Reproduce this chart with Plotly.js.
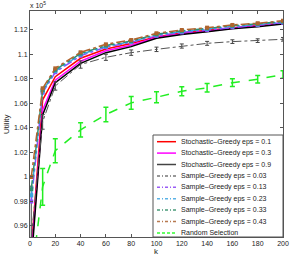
<!DOCTYPE html>
<html>
<head>
<meta charset="utf-8">
<script src="https://cdn.plot.ly/plotly-3.0.1.min.js"></script>
<style>html,body{margin:0;padding:0;background:#fff;}#chart{width:291px;height:257px;}</style>
</head>
<body>
<div id="chart"></div>
<script>
// k values
const kValues = [1, 10, 20, 40, 60, 80, 100, 120, 140, 160, 180, 200];

// Utility values (x 10^5)
const stochGreedy01 = [0.940, 1.0630, 1.0819, 1.0969, 1.1045, 1.1090, 1.1145, 1.1175, 1.1197, 1.1220, 1.1237, 1.1258];
const stochGreedy03 = [0.935, 1.0547, 1.0790, 1.0945, 1.1030, 1.1075, 1.1138, 1.1170, 1.1190, 1.1215, 1.1232, 1.1253];
const stochGreedy09 = [0.930, 1.0506, 1.0770, 1.0928, 1.1015, 1.1064, 1.1132, 1.1163, 1.1185, 1.1210, 1.1227, 1.1249];
const sampleGreedy003 = [0.950, 1.0450, 1.0743, 1.0918, 1.0977, 1.1015, 1.1042, 1.1069, 1.1091, 1.1105, 1.1113, 1.1124];
const sampleGreedy003Err = [0.0425, 0.006, 0.0034, 0.003, 0.0025, 0.0022, 0.0018, 0.0017, 0.0016, 0.0015, 0.0015, 0.0015];
const sampleGreedy013 = [0.980, 1.0688, 1.0855, 1.0990, 1.1060, 1.1100, 1.1152, 1.1180, 1.1200, 1.1223, 1.1240, 1.1260];
const sampleGreedy023 = [0.985, 1.0700, 1.0865, 1.1000, 1.1066, 1.1105, 1.1160, 1.1188, 1.1208, 1.1230, 1.1245, 1.1265];
const sampleGreedy033 = [0.990, 1.0710, 1.0875, 1.1008, 1.1073, 1.1110, 1.1165, 1.1193, 1.1213, 1.1235, 1.1250, 1.1270];
const sampleGreedy043 = [1.000, 1.0724, 1.0887, 1.1018, 1.1083, 1.1118, 1.1173, 1.1200, 1.1219, 1.1241, 1.1255, 1.1276];
const randomSel = [0.916, 0.992, 1.0215, 1.0385, 1.0510, 1.0605, 1.0651, 1.0700, 1.0728, 1.0770, 1.0798, 1.0837];
const randomSelErr = [0.02, 0.015, 0.0098, 0.0058, 0.006, 0.0053, 0.0045, 0.0037, 0.0035, 0.0032, 0.003, 0.003];

const seriesNames = [
  "Stochastic–Greedy eps = 0.1",
  "Stochastic–Greedy eps = 0.3",
  "Stochastic–Greedy eps = 0.9",
  "Sample–Greedy eps = 0.03",
  "Sample–Greedy eps = 0.13",
  "Sample–Greedy eps = 0.23",
  "Sample–Greedy eps = 0.33",
  "Sample–Greedy eps = 0.43",
  "Random Selection"
];

const yTickVals = [0.96, 0.98, 1, 1.02, 1.04, 1.06, 1.08, 1.1, 1.12];
const yTickText = ["0.96", "0.98", "1", "1.02", "1.04", "1.06", "1.08", "1.1", "1.12"];
const xTickVals = [0, 20, 40, 60, 80, 100, 120, 140, 160, 180, 200];

const styles = [
  {color: '#ff0000', dash: 'solid', width: 1.5, marker: false},
  {color: '#ff00ff', dash: 'solid', width: 1.5, marker: false},
  {color: '#000000', dash: 'solid', width: 1.5, marker: false},
  {color: '#555555', dash: 'dashdot', width: 1, marker: false},
  {color: '#8a4dff', dash: 'dashdot', width: 1.5, marker: true},
  {color: '#3aa6dd', dash: 'dashdot', width: 1.5, marker: true},
  {color: '#2e8f72', dash: 'dashdot', width: 1.5, marker: true},
  {color: '#b0642e', dash: 'dashdot', width: 1.5, marker: true},
  {color: '#22ee22', dash: 'dash', width: 1.5, marker: false}
];
const legendColors = ['#ff0000', '#ff00ff', '#444444', '#777777', '#9a5cf5', '#5ab2e6', '#4a9a7a', '#b87a50', '#33ff33'];

const seriesData = [stochGreedy01, stochGreedy03, stochGreedy09, sampleGreedy003,
  sampleGreedy013, sampleGreedy023, sampleGreedy033, sampleGreedy043, randomSel];

const traces = seriesData.map((ys, i) => {
  const s = styles[i];
  const t = {
    x: kValues, y: ys, type: 'scatter',
    mode: s.marker ? 'lines+markers' : 'lines',
    name: seriesNames[i],
    line: {color: s.color, dash: s.dash, width: s.width},
    showlegend: false, cliponaxis: true
  };
  if (s.marker) t.marker = {symbol: 'square', size: 4, color: s.color};
  if (i === 3) t.error_y = {type: 'data', array: sampleGreedy003Err, visible: true, color: '#444', thickness: 1, width: 2};
  if (i === 8) t.error_y = {type: 'data', array: randomSelErr, visible: true, color: '#22ee22', thickness: 1.5, width: 2.5};
  return t;
});

// plot area in px
const W = 291, H = 257, ML = 30, MR = 8, MT = 11, MB = 20;
const PW = W - ML - MR, PH = H - MT - MB;
const px2x = p => (p - ML) / PW;
const px2y = p => (H - MB - p) / PH;

const shapes = [];
const annotations = [];
// legend box
shapes.push({type: 'rect', xref: 'paper', yref: 'paper', x0: px2x(153), x1: 1, y0: 0, y1: px2y(135),
  line: {color: '#555', width: 1}, fillcolor: '#ffffff', layer: 'above'});
seriesNames.forEach((name, i) => {
  const yp = 141.7 + i * 11.4;
  shapes.push({type: 'line', xref: 'paper', yref: 'paper', x0: px2x(157), x1: px2x(176), y0: px2y(yp), y1: px2y(yp),
    line: {color: legendColors[i], width: 1.5, dash: styles[i].dash === 'solid' ? 'solid' : (styles[i].dash === 'dash' ? '3px,2px' : '3px,2px,1px,2px')}, layer: 'above'});
  annotations.push({xref: 'paper', yref: 'paper', x: px2x(179), y: px2y(yp), xanchor: 'left', yanchor: 'middle',
    text: name, showarrow: false, font: {family: 'Liberation Sans, Arial, sans-serif', size: 7, color: '#222'}});
});
annotations.push({xref: 'paper', yref: 'paper', x: px2x(156), y: px2y(251), xanchor: 'center', yanchor: 'middle',
  text: 'k', showarrow: false, font: {family: 'Liberation Sans, Arial, sans-serif', size: 8, color: '#222'}});
annotations.push({xref: 'paper', yref: 'paper', x: px2x(6), y: 0.5, xanchor: 'center', yanchor: 'middle', textangle: -90,
  text: 'Utility', showarrow: false, font: {family: 'Liberation Sans, Arial, sans-serif', size: 8, color: '#222'}});
annotations.push({xref: 'paper', yref: 'paper', x: px2x(28), y: px2y(5), xanchor: 'left', yanchor: 'middle',
  text: 'x 10<sup>5</sup>', showarrow: false, font: {family: 'Liberation Sans, Arial, sans-serif', size: 7, color: '#222'}});

const axisCommon = {
  showgrid: false, zeroline: false, showline: true, linecolor: '#555', linewidth: 1,
  mirror: 'ticks', ticks: 'inside', ticklen: 3, tickcolor: '#555', tickwidth: 1,
  tickfont: {family: 'Liberation Sans, Arial, sans-serif', size: 7, color: '#222'}
};

const layout = {
  width: W, height: H,
  margin: {l: ML, r: MR, t: MT, b: MB, pad: 0},
  paper_bgcolor: '#fff', plot_bgcolor: '#fff',
  showlegend: false,
  xaxis: Object.assign({}, axisCommon, {range: [0, 200], tickvals: xTickVals, ticktext: xTickVals.map(String)}),
  yaxis: Object.assign({}, axisCommon, {range: [0.951, 1.1355], tickvals: yTickVals, ticktext: yTickText}),
  shapes: shapes, annotations: annotations
};

Plotly.newPlot('chart', traces, layout, {staticPlot: true, displayModeBar: false});
</script>
</body>
</html>
